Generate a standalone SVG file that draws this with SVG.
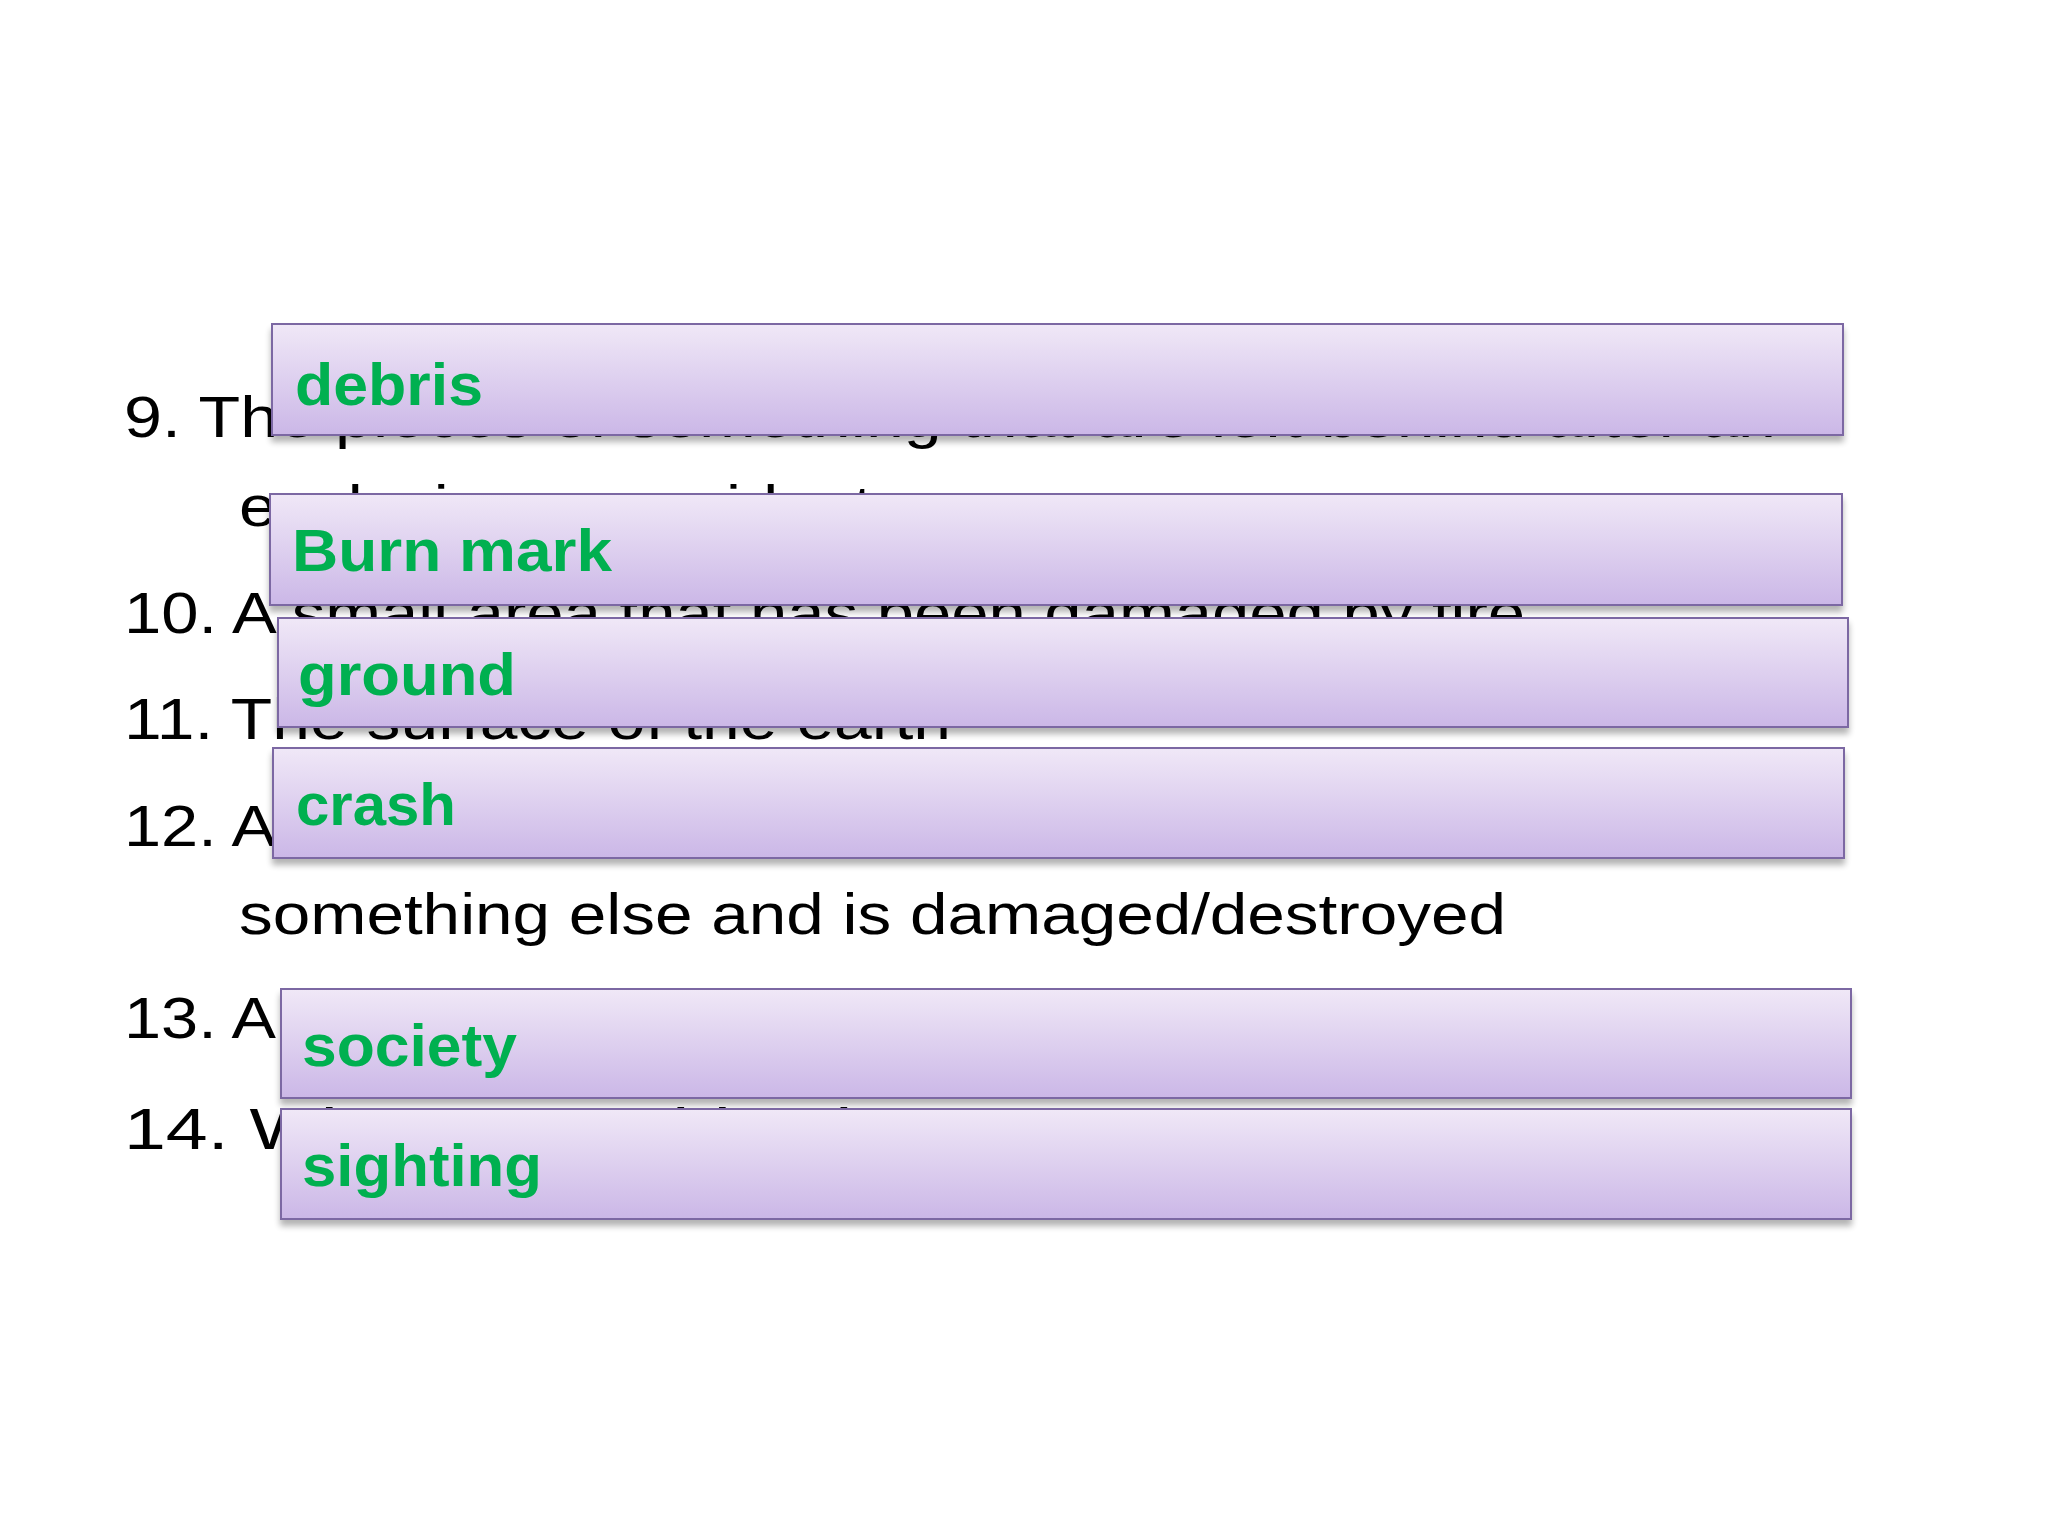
<svg xmlns="http://www.w3.org/2000/svg" width="2048" height="1536" viewBox="0 0 2048 1536">
<defs>
<linearGradient id="g" x1="0" y1="0" x2="0" y2="1"><stop offset="0" stop-color="#f0e8f7"/><stop offset="1" stop-color="#cbb7e7"/></linearGradient>
<filter id="sh" x="-5%" y="-20%" width="110%" height="150%"><feGaussianBlur in="SourceAlpha" stdDeviation="3"/><feOffset dy="6"/><feComponentTransfer><feFuncA type="linear" slope="0.3"/></feComponentTransfer><feMerge><feMergeNode/><feMergeNode in="SourceGraphic"/></feMerge></filter>
</defs>
<style>
.t{font-family:"Liberation Sans",Arial,sans-serif;font-size:58px;fill:#000}
.b{fill:url(#g);stroke:#7b67a3;stroke-width:2;filter:url(#sh)}
.l{font-family:"Liberation Sans",Arial,sans-serif;font-weight:bold;font-size:60px;fill:#00b050}
</style>
<rect width="2048" height="1536" fill="#fff"/>
<g id="text">
<text class="t" x="124" y="437" textLength="1652" lengthAdjust="spacingAndGlyphs">9. The pieces of something that are left behind after an</text>
<text class="t" x="239" y="526" textLength="633" lengthAdjust="spacingAndGlyphs">explosion or accident</text>
<text class="t" x="124" y="633" textLength="1401" lengthAdjust="spacingAndGlyphs">10. A small area that has been damaged by fire</text>
<text class="t" x="124" y="739" textLength="827" lengthAdjust="spacingAndGlyphs">11. The surface of the earth</text>
<text class="t" x="124" y="846" textLength="152" lengthAdjust="spacingAndGlyphs">12. A</text>
<text class="t" x="239" y="934" textLength="1267" lengthAdjust="spacingAndGlyphs">something else and is damaged/destroyed</text>
<text class="t" x="124" y="1038" textLength="152" lengthAdjust="spacingAndGlyphs">13. A</text>
<text class="t" x="124" y="1149" textLength="950" lengthAdjust="spacingAndGlyphs">14. When something is seen</text>
</g>
<g id="n1"><rect class="b" x="272" y="324" width="1571" height="111"/><text class="l" x="295" y="405" textLength="188" lengthAdjust="spacingAndGlyphs">debris</text></g>
<g id="n2"><rect class="b" x="270" y="494" width="1572" height="111"/><text class="l" x="292" y="571" textLength="320" lengthAdjust="spacingAndGlyphs">Burn mark</text></g>
<g id="n3"><rect class="b" x="278" y="618" width="1570" height="109"/><text class="l" x="298" y="695" textLength="218" lengthAdjust="spacingAndGlyphs">ground</text></g>
<g id="n4"><rect class="b" x="273" y="748" width="1571" height="110"/><text class="l" x="296" y="825" textLength="160" lengthAdjust="spacingAndGlyphs">crash</text></g>
<g id="n5"><rect class="b" x="281" y="989" width="1570" height="109"/><text class="l" x="302" y="1066" textLength="215" lengthAdjust="spacingAndGlyphs">society</text></g>
<g id="n6"><rect class="b" x="281" y="1109" width="1570" height="110"/><text class="l" x="302" y="1186" textLength="240" lengthAdjust="spacingAndGlyphs">sighting</text></g>
</svg>
